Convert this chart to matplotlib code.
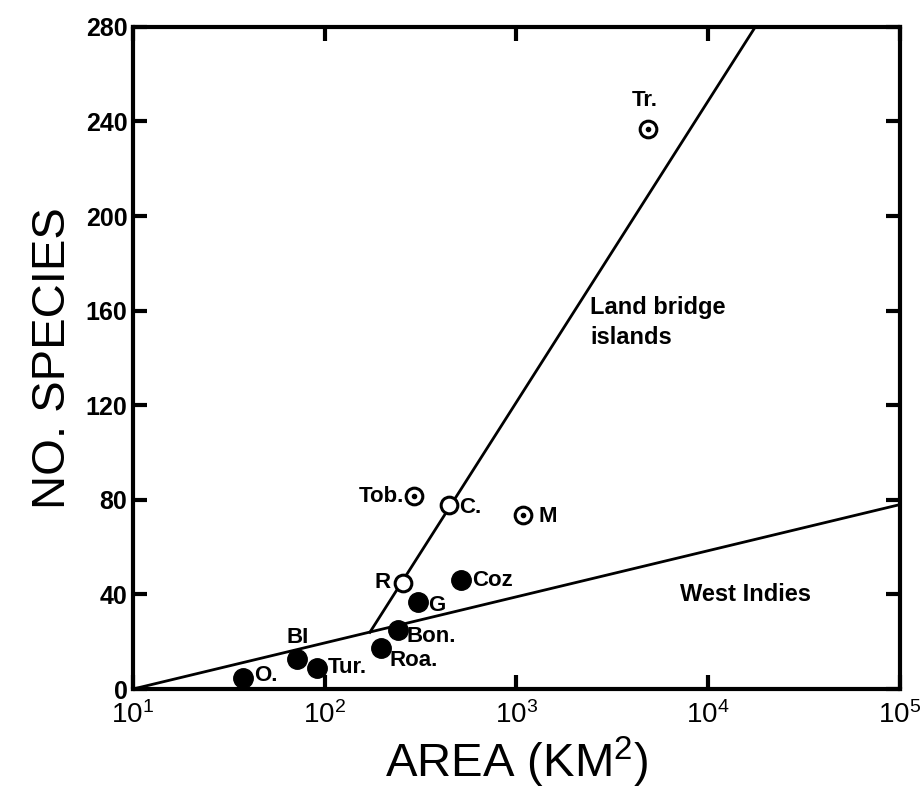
import matplotlib.pyplot as plt
import numpy as np

# land bridge islands (open circles)
lb_names = ['Tr.', 'Tob.', 'C.', 'M', 'R']
lb_area = [4850, 292, 445, 1080, 256]
lb_species = [237, 81.5, 78, 73.5, 45]
lb_dotted = ['Tr.', 'Tob.', 'M']

# west indies islands (filled circles)
wi_names = ['Coz', 'G', 'Bon.', 'Roa.', 'BI', 'Tur.', 'O.']
wi_area = [514, 307, 241, 197, 72, 91, 37.5]
wi_species = [46, 37, 25, 17.5, 12.5, 9, 4.5]

# fitted lines (end points)
wi_line_area = [10, 1e5]
wi_line_species = [0, 78]
lb_line_area = [172, 17600]
lb_line_species = [24, 280]

fam = ['Liberation Sans', 'DejaVu Sans']
plt.rcParams['font.family'] = fam
plt.rcParams['mathtext.fontset'] = 'custom'
plt.rcParams['mathtext.rm'] = 'Liberation Sans'
plt.rcParams['mathtext.it'] = 'Liberation Sans'

fig = plt.figure(figsize=(9.21, 7.94), dpi=100)
ax = fig.add_axes([0.1444, 0.1322, 0.8328, 0.834])

ax.plot(wi_line_area, wi_line_species, color='black', lw=2)
ax.plot(lb_line_area, lb_line_species, color='black', lw=2)

ax.plot(wi_area, wi_species, 'o', color='black', ms=14, zorder=3)
ax.plot(lb_area, lb_species, 'o', mfc='white', mec='black', mew=2.2, ms=12, zorder=3)
for n, a, s in zip(lb_names, lb_area, lb_species):
    if n in lb_dotted:
        ax.plot(a, s, 'o', color='black', ms=3, zorder=4)

lbl = dict(fontsize=16, fontweight='bold', va='center')
offsets = {
    'Tr.': (-2, 20, 'center'), 'Tob.': (-7, 0, 'right'), 'C.': (7, -2, 'left'),
    'M': (11, -1, 'left'), 'R': (-9, 0, 'right'), 'Coz': (8, 0, 'left'),
    'G': (7, -3, 'left'), 'Bon.': (6, -5, 'left'), 'Roa.': (6, -9, 'left'),
    'BI': (0, 16, 'center'), 'Tur.': (8, 0, 'left'), 'O.': (8, 2, 'left'),
}
for n, a, s in list(zip(lb_names, lb_area, lb_species)) + list(zip(wi_names, wi_area, wi_species)):
    dx, dy, ha = offsets[n]
    ax.annotate(n, (a, s), xytext=(dx, dy), textcoords='offset points', ha=ha, **lbl)

ax.text(2420, 166, 'Land bridge\nislands', fontsize=17, fontweight='bold',
        ha='left', va='top', linespacing=1.35)
ax.text(7130, 40, 'West Indies', fontsize=17, fontweight='bold', ha='left', va='center')

ax.set_xscale('log')
ax.set_xlim(10, 1e5)
ax.set_ylim(0, 280)
ax.set_xticks([10, 100, 1000, 1e4, 1e5])
ax.set_xticklabels(['$10^{1}$', '$10^{2}$', '$10^{3}$', '$10^{4}$', '$10^{5}$'])
ax.minorticks_off()
ax.set_yticks(np.arange(0, 281, 40))
ax.tick_params(direction='in', length=10, width=3, top=True, right=True,
               labelsize=18)
ax.tick_params(axis='x', pad=9, labelsize=20)
ax.tick_params(axis='y', pad=4)
for lab in ax.get_yticklabels():
    lab.set_fontweight('bold')
for sp in ax.spines.values():
    sp.set_linewidth(3)

ax.set_xlabel('AREA (KM$^2$)', fontsize=34, family=['Liberation Sans Narrow', 'Liberation Sans'], labelpad=4)
ax.set_ylabel('NO. SPECIES', fontsize=34, family=['Liberation Sans Narrow', 'Liberation Sans'], labelpad=8)

fig.savefig('out.png', dpi=100)
